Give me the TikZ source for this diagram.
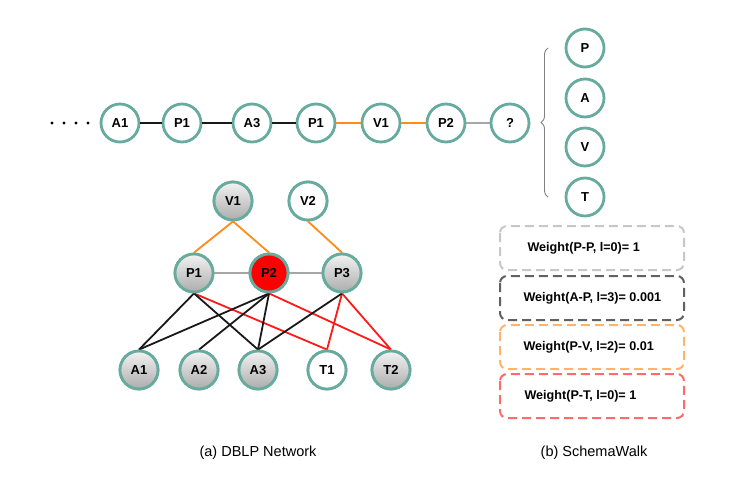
\documentclass[tikz,border=0pt]{standalone}
\usepackage{fontspec}
\setmainfont{Liberation Sans}
\usetikzlibrary{decorations.pathreplacing}
\definecolor{teal1}{HTML}{67AB9F}
\definecolor{orng}{HTML}{FF8C1A}
\definecolor{redl}{HTML}{FF1A1A}
\definecolor{grayl}{HTML}{A6A6A6}
\tikzset{
  nd/.style={circle,draw=teal1,line width=2.8pt,minimum size=38pt,inner sep=0pt,font=\fontsize{13}{14}\selectfont\bfseries,fill=white},
  gnd/.style={nd,top color=gray!10,bottom color=gray!65},
  rnd/.style={nd,fill=red},
  ble/.style={line width=1.8pt,black!90},
  ore/.style={line width=1.8pt,orng},
  gre/.style={line width=1.8pt,grayl},
  rde/.style={line width=1.8pt,redl},
  wbox/.style={line width=2pt,rounded corners=7pt,dash pattern=on 9pt off 5pt},
  wtxt/.style={anchor=west,font=\fontsize{12.6}{14}\selectfont\bfseries},
  captxt/.style={font=\fontsize{14.5}{16}\selectfont}
}
\begin{document}
\begin{tikzpicture}[x=1pt,y=-1pt]
\useasboundingbox (0,0) rectangle (749,485);
% top row
\foreach \xx in {52,64,76,88} \fill (\xx,123) circle (1.6pt);
\node[nd] (ta1) at (120,123) {A1};
\node[nd] (tp1) at (182,123) {P1};
\node[nd] (ta3) at (252,123) {A3};
\node[nd] (tp1b) at (316,123) {P1};
\node[nd] (tv1) at (381,123) {V1};
\node[nd] (tp2) at (446,123) {P2};
\node[nd] (tq) at (510,123) {?};
\draw[ble] (ta1) -- (tp1);
\draw[ble] (tp1) -- (ta3);
\draw[ble] (ta3) -- (tp1b);
\draw[ore] (tp1b) -- (tv1);
\draw[ore] (tv1) -- (tp2);
\draw[gre,line width=2.2pt] (tp2) -- (tq);
% right column
\node[nd] (cp) at (585,48) {P};
\node[nd] (ca) at (585,98) {A};
\node[nd] (cv) at (585,147) {V};
\node[nd] (ct) at (585,197) {T};
\coordinate (bb) at (548,197);
\coordinate (bt) at (548,48);
\draw[gray,line width=0.9pt,decorate,decoration={brace,amplitude=7pt}] (bb) -- (bt);
% bottom graph
\node[gnd] (v1) at (233,201) {V1};
\node[nd] (v2) at (308,201) {V2};
\node[gnd] (p1) at (194,273) {P1};
\node[rnd] (p2) at (269,273) {P2};
\node[gnd] (p3) at (342,273) {P3};
\node[gnd] (a1) at (139,370) {A1};
\node[gnd] (a2) at (199,370) {A2};
\node[gnd] (a3) at (258,370) {A3};
\node[nd] (t1) at (327,370) {T1};
\node[gnd] (t2) at (391,370) {T2};
\draw[ore] (v1.south) -- (p1.north);
\draw[ore] (v1.south) -- (p2.north);
\draw[ore] (v2.south) -- (p3.north);
\draw[gre] (p1) -- (p2);
\draw[gre] (p2) -- (p3);
\draw[rde] (p1.south) -- (t1.north);
\draw[rde] (p2.south) -- (t2.north);
\draw[rde] (p3.south) -- (t1.north);
\draw[rde] (p3.south) -- (t2.north);
\draw[ble] (p1.south) -- (a1.north);
\draw[ble] (p1.south) -- (a3.north);
\draw[ble] (p2.south) -- (a1.north);
\draw[ble] (p2.south) -- (a2.north);
\draw[ble] (p2.south) -- (a3.north);
\draw[ble] (p3.south) -- (a3.north);
% redraw node circles over edges
\node[gnd] at (p1) {P1};
\node[rnd] at (p2) {P2};
\node[gnd] at (p3) {P3};
\node[gnd] at (a1) {A1};
\node[gnd] at (a2) {A2};
\node[gnd] at (a3) {A3};
\node[nd] at (t1) {T1};
\node[gnd] at (t2) {T2};
\node[gnd] at (v1) {V1};
\node[nd] at (v2) {V2};
% weight boxes
\draw[wbox,draw=black!22] (500,226) rectangle (684,270);
\node[wtxt] (w1) at (524,248) {Weight(P-P, l=0)= 1};
\draw[wbox,draw=black!62] (500,276) rectangle (684,320);
\node[wtxt] (w2) at (520,298) {Weight(A-P, l=3)= 0.001};
\draw[wbox,draw=orng!65] (500,325) rectangle (684,369);
\node[wtxt] (w3) at (520,347) {Weight(P-V, l=2)= 0.01};
\draw[wbox,draw=redl!65] (500,374) rectangle (684,418);
\node[wtxt] (w4) at (521,396) {Weight(P-T, l=0)= 1};
% captions
\node[captxt] (ca1) at (258,453) {(a) DBLP Network};
\node[captxt] (ca2) at (594,453) {(b) SchemaWalk};
\end{tikzpicture}
\end{document}
